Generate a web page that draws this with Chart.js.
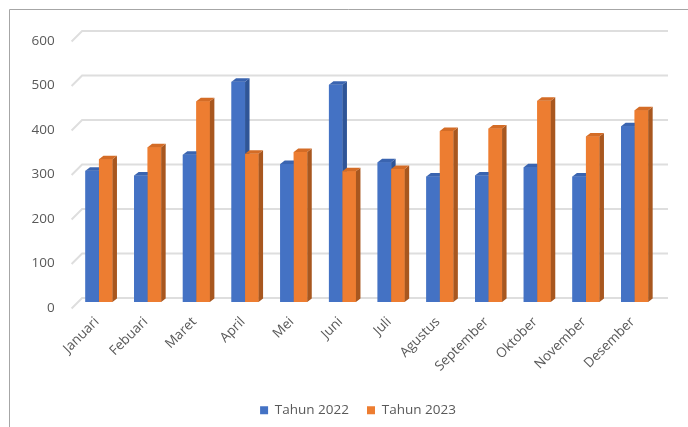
<!DOCTYPE html>
<html><head><meta charset="utf-8">
<script src="https://cdn.jsdelivr.net/npm/chart.js@4"></script>
<style>html,body{margin:0;padding:0;background:#fff;overflow:hidden}#wrap{position:relative;width:688px;height:427px}</style>
</head><body><div id="wrap"><canvas id="c" width="688" height="427"></canvas></div>
<script>
const categories = ['Januari','Febuari','Maret','April','Mei','Juni','Juli','Agustus','September','Oktober','November','Desember'];
const tahun2022 = [295,284,331,495,310,488,314,282,284,303,282,395];
const tahun2023 = [321,348,451,333,337,294,299,384,390,452,372,431];
const seriesNames = ['Tahun 2022','Tahun 2023'];
const yTicks = [0,100,200,300,400,500,600];

const frontColors = ['#4472C4','#ED7D31'];
const sideColors = ['#2F5597','#A8571F'];
const capColors = ['#3A64B0','#D46C26'];
const FONT = '"Open Sans", "Liberation Sans", sans-serif';

const threeD = {
  id: 'threeD',
  afterLayout(chart) {
    // centre the legend under the plot the way the original does
    const lg = chart.legend;
    if (lg) { lg.left += 28.5; lg.right += 28.5; }
  },
  beforeDraw(chart) {
    const ctx = chart.ctx;
    ctx.save();
    ctx.strokeStyle = '#a6a6a6';
    ctx.lineWidth = 1;
    ctx.beginPath();
    ctx.moveTo(9.5, chart.height);
    ctx.lineTo(9.5, 9.5);
    ctx.lineTo(chart.width, 9.5);
    ctx.stroke();
    ctx.restore();
  },
  beforeDatasetsDraw(chart) {
    const ctx = chart.ctx, ys = chart.scales.y, a = chart.chartArea;
    ctx.save();
    ctx.strokeStyle = '#dedede';
    ctx.lineWidth = 2;
    ctx.beginPath();
    yTicks.forEach(v => {
      const yb = ys.getPixelForValue(v) - 4;
      ctx.moveTo(a.left - 3, yb + 10.5);
      ctx.lineTo(a.left + 7.5, yb);
      ctx.lineTo(a.right + 9, yb);
    });
    ctx.stroke();
    ctx.restore();
  },
  afterDatasetsDraw(chart) {
    const ctx = chart.ctx;
    const dx = 4.5, dy = 3.5;
    ctx.save();
    chart.data.datasets.forEach((ds, i) => {
      const meta = chart.getDatasetMeta(i);
      meta.data.forEach(bar => {
        const p = bar.getProps(['x','y','base','width'], true);
        const l = p.x - p.width / 2, r = p.x + p.width / 2;
        const top = p.y, base = p.base;
        ctx.fillStyle = frontColors[i];
        ctx.fillRect(l, top, p.width, base - top);
        ctx.fillStyle = sideColors[i];
        ctx.beginPath();
        ctx.moveTo(r, top); ctx.lineTo(r + dx, top - dy); ctx.lineTo(r + dx, base - dy); ctx.lineTo(r, base);
        ctx.closePath(); ctx.fill();
        ctx.fillStyle = capColors[i];
        ctx.beginPath();
        ctx.moveTo(l, top); ctx.lineTo(l + dx, top - dy); ctx.lineTo(r + dx, top - dy); ctx.lineTo(r, top);
        ctx.closePath(); ctx.fill();
      });
    });
    ctx.restore();
  }
};

new Chart(document.getElementById('c'), {
  type: 'bar',
  data: {
    labels: categories,
    datasets: [
      { label: seriesNames[0], data: tahun2022, backgroundColor: frontColors[0], borderWidth: 0 },
      { label: seriesNames[1], data: tahun2023, backgroundColor: frontColors[1], borderWidth: 0 }
    ]
  },
  options: {
    responsive: false,
    animation: false,
    events: [],
    categoryPercentage: 0.555,
    barPercentage: 1.0,
    layout: { padding: { top: 35, left: 0, right: 29, bottom: 0 } },
    plugins: {
      tooltip: { enabled: false },
      legend: {
        position: 'bottom',
        labels: {
          boxWidth: 8, boxHeight: 8, padding: 18, color: '#595959',
          font: { family: FONT, size: 13.5 }
        }
      }
    },
    scales: {
      x: {
        grid: { display: false, drawTicks: false },
        border: { display: false },
        ticks: {
          autoSkip: false, minRotation: 45, maxRotation: 45, padding: 12, labelOffset: -2,
          color: '#595959', font: { family: FONT, size: 13.5 }
        },
        afterFit(s) { s.height = 83.5; }
      },
      y: {
        min: 0, max: 600,
        grid: { display: false, drawTicks: false },
        border: { display: false },
        ticks: {
          stepSize: 100, padding: 20, labelOffset: 6,
          color: '#595959', font: { family: FONT, size: 13.5 }
        },
        afterFit(s) { s.width = 74.6; }
      }
    }
  },
  plugins: [threeD]
});
</script>
</body></html>
